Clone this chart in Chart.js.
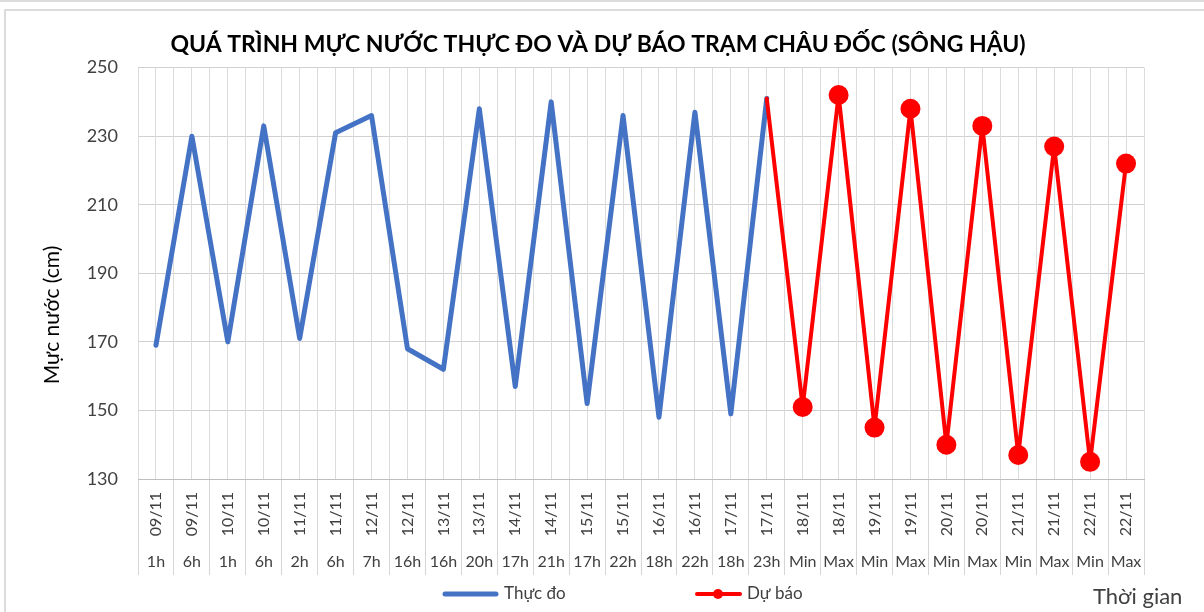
<!DOCTYPE html>
<html>
<head>
<meta charset="utf-8">
<script src="https://cdn.jsdelivr.net/npm/chart.js@4.4.1/dist/chart.umd.min.js"></script>
<style>
  html, body { margin: 0; padding: 0; background: #fff; }
  body { width: 1204px; height: 612px; position: relative; overflow: hidden; }
  #topstrip { position: absolute; left: 0; top: 0; width: 1204px; height: 2px; background: #dcdcdc; }
  #card { position: absolute; left: 4px; top: 9px; width: 1210px; height: 620px; border-left: 2px solid #dcdcdc; border-top: 2px solid #dcdcdc; box-sizing: border-box; }
  #c { position: absolute; left: 0; top: 0; }
</style>
</head>
<body>
<div id="topstrip"></div>
<div id="card"></div>
<canvas id="c" width="1204" height="612"></canvas>
<script>
const chartTitle = 'QUÁ TRÌNH MỰC NƯỚC THỰC ĐO VÀ DỰ BÁO TRẠM CHÂU ĐỐC (SÔNG HẬU)';
const yAxisTitle = 'Mực nước (cm)';
const xAxisTitle = 'Thời gian';
const seriesNames = ['Thực đo', 'Dự báo'];

const dateLabels = ['09/11','09/11','10/11','10/11','11/11','11/11','12/11','12/11','13/11','13/11',
  '14/11','14/11','15/11','15/11','16/11','16/11','17/11','17/11','18/11','18/11',
  '19/11','19/11','20/11','20/11','21/11','21/11','22/11','22/11'];
const hourLabels = ['1h','6h','1h','6h','2h','6h','7h','16h','16h','20h',
  '17h','21h','17h','22h','18h','22h','18h','23h','Min','Max',
  'Min','Max','Min','Max','Min','Max','Min','Max'];

const observed = [169,230,170,233,171,231,236,168,162,238,157,240,152,236,148,237,149,241,
  null,null,null,null,null,null,null,null,null,null];
const forecast = [null,null,null,null,null,null,null,null,null,null,null,null,null,null,null,null,null,
  241,151,242,145,238,140,233,137,227,135,222];

const yMin = 130, yMax = 250, yStep = 20;

const FONT = 'Lato, "Open Sans", sans-serif';
const TXT = '#404040';

const decorPlugin = {
  id: 'decor',
  afterDraw(chart) {
    const ctx = chart.ctx;
    ctx.save();
    // y axis title
    ctx.translate(52, 315);
    ctx.rotate(-Math.PI / 2);
    ctx.font = '21px ' + FONT;
    ctx.fillStyle = '#000';
    ctx.textAlign = 'center';
    ctx.textBaseline = 'middle';
    ctx.fillText(yAxisTitle, 0, 0);
    ctx.restore();

    // legend
    const ds = chart.data.datasets;
    ctx.save();
    const ly = 594;
    ctx.lineCap = 'round';
    ctx.strokeStyle = ds[0].borderColor;
    ctx.lineWidth = 5;
    ctx.beginPath(); ctx.moveTo(445, ly); ctx.lineTo(496, ly); ctx.stroke();
    ctx.strokeStyle = ds[1].borderColor;
    ctx.lineWidth = 4;
    ctx.beginPath(); ctx.moveTo(697, ly); ctx.lineTo(740, ly); ctx.stroke();
    ctx.fillStyle = ds[1].pointBackgroundColor;
    ctx.beginPath(); ctx.arc(718, ly, 5, 0, Math.PI * 2); ctx.fill();
    ctx.font = '17px ' + FONT;
    ctx.fillStyle = TXT;
    ctx.textAlign = 'left';
    ctx.textBaseline = 'middle';
    ctx.fillText(seriesNames[0], 504, ly);
    ctx.fillText(seriesNames[1], 747, ly);
    // x axis title
    ctx.font = '22px ' + FONT;
    ctx.fillText(xAxisTitle, 1093, 597);
    ctx.restore();
  }
};

new Chart(document.getElementById('c'), {
  type: 'line',
  data: {
    labels: hourLabels,
    datasets: [
      {
        label: seriesNames[0],
        data: observed,
        borderColor: '#4472C4',
        backgroundColor: '#4472C4',
        borderWidth: 5,
        pointRadius: 0,
        borderJoinStyle: 'round',
        borderCapStyle: 'round',
        spanGaps: false,
        order: 1
      },
      {
        label: seriesNames[1],
        data: forecast,
        borderColor: '#FF0000',
        backgroundColor: '#FF0000',
        pointBackgroundColor: '#FF0000',
        pointBorderWidth: 0,
        borderWidth: 4,
        pointRadius: forecast.map((v, i) => (v === null || i === 17) ? 0 : 10),
        borderJoinStyle: 'round',
        borderCapStyle: 'round',
        order: 0
      }
    ]
  },
  options: {
    responsive: false,
    animation: false,
    layout: { padding: { left: 52, right: 60, top: 0, bottom: 37 } },
    plugins: {
      legend: { display: false },
      tooltip: { enabled: false },
      title: {
        display: true,
        text: chartTitle,
        color: '#000',
        font: { family: FONT, size: 23, weight: 'bold' },
        padding: { top: 31, bottom: 9 }
      }
    },
    scales: {
      y: {
        min: yMin, max: yMax,
        ticks: { stepSize: yStep, color: TXT, font: { family: FONT, size: 18 }, padding: 20 },
        grid: { color: '#d0d0d0', drawTicks: false },
        border: { display: false },
        afterFit(s) { s.width = 86; }
      },
      x: {
        type: 'category',
        labels: dateLabels,
        position: 'bottom',
        weight: 0,
        offset: true,
        ticks: { autoSkip: false, minRotation: 90, maxRotation: 90, color: TXT, font: { family: FONT, size: 16 }, padding: -83 },
        grid: { offset: true, color: '#dcdcdc', tickColor: '#d6d6d6', tickLength: 96 },
        border: { display: true, color: '#bfbfbf' },
        afterFit(s) { s.height = 62; }
      },
      x2: {
        type: 'category',
        labels: hourLabels,
        position: 'bottom',
        weight: 1,
        offset: true,
        ticks: { autoSkip: false, minRotation: 0, maxRotation: 0, color: TXT, font: { family: FONT, size: 16 }, padding: 11 },
        grid: { offset: false, color: '#dcdcdc', drawTicks: false },
        border: { display: false },
        afterFit(s) { s.height = 34; }
      }
    }
  },
  plugins: [decorPlugin]
});
</script>
</body>
</html>
